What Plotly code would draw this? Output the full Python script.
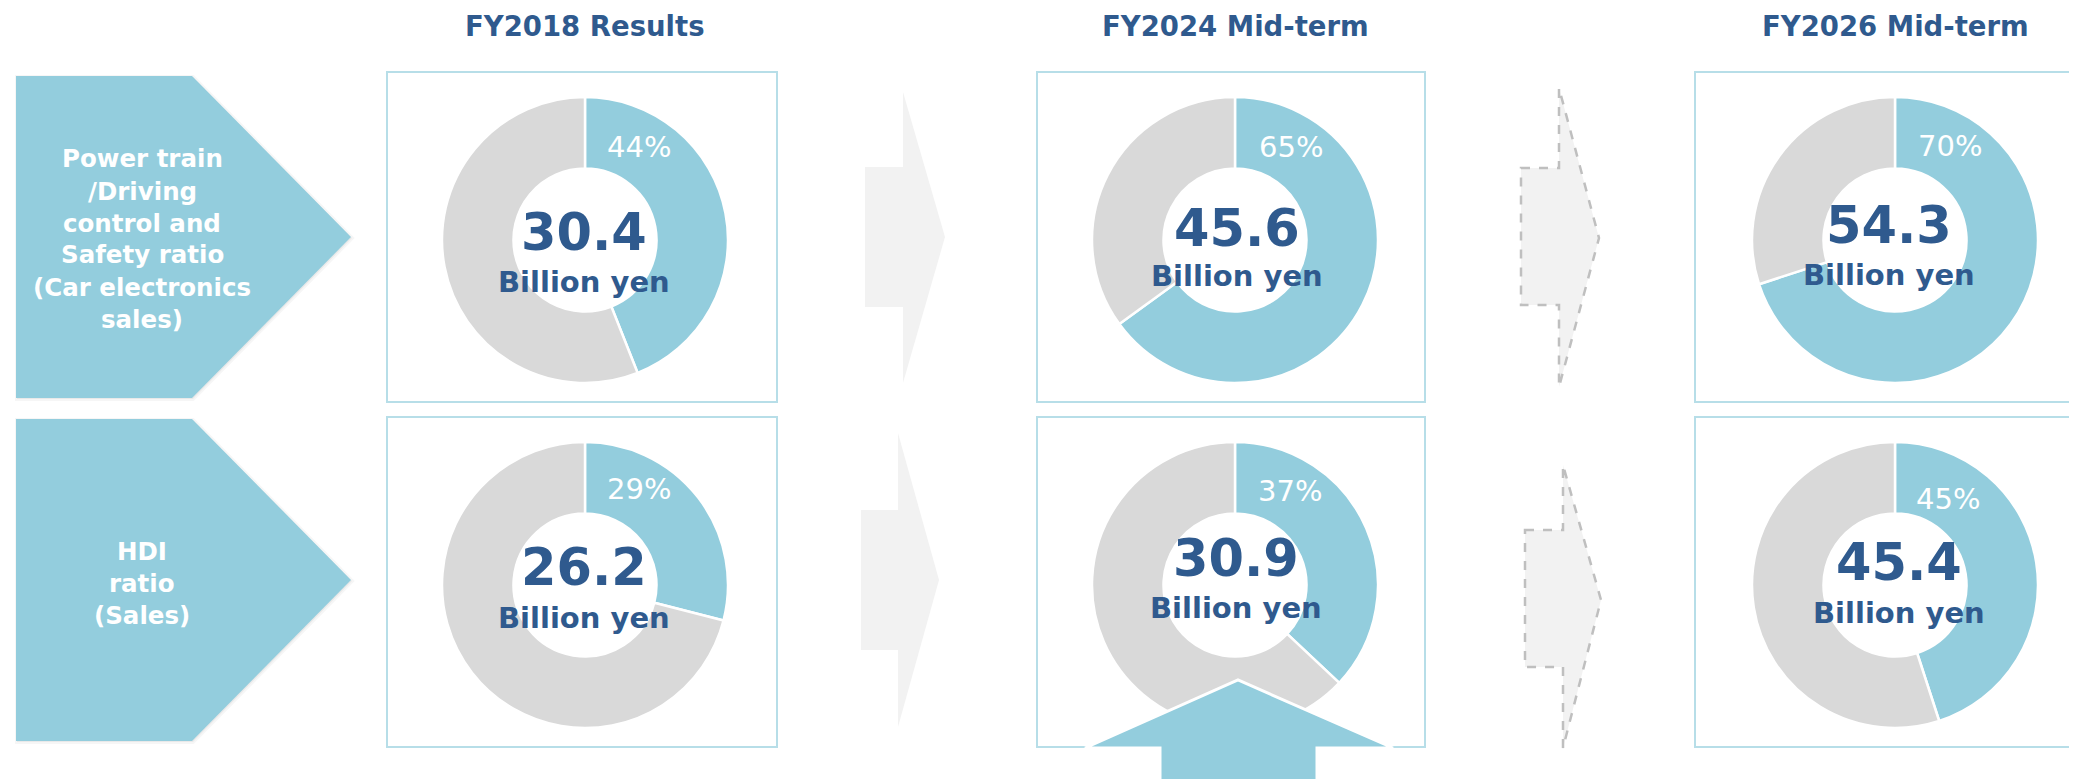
import plotly.graph_objects as go

# ---------------- data ----------------
periods = ["FY2018 Results", "FY2024 Mid-term", "FY2026 Mid-term"]
row_label_lines = [
    ["Power train", "/Driving", "control and", "Safety ratio", "(Car electronics", "sales)"],
    ["HDI", "ratio", "(Sales)"],
]
share_powertrain = [44, 65, 70]          # % of car electronics sales
share_hdi = [29, 37, 45]                 # % of sales
amount_powertrain = [30.4, 45.6, 54.3]   # billion yen
amount_hdi = [26.2, 30.9, 45.4]          # billion yen
unit_label = "Billion yen"

# ---------------- layout geometry (page pixels) ----------------
PAGE_W, PAGE_H = 2077, 779
OFF = 8                      # default page body margin
W, H = PAGE_W - OFF, PAGE_H - OFF
col_cx = [585, 1235, 1895]
row_cy = [240, 585]
R = 143
# centre-text positions (x, value_y, unit_y) per row/col
center_text_pos = [
    [(584, 232, 282), (1237, 228, 276), (1889, 225, 275)],
    [(584, 567, 618), (1236, 558, 608), (1899, 562, 613)],
]
pct_pos = [
    [(639, 147), (1291, 147), (1950, 146)],
    [(639, 489), (1290, 491), (1948, 499)],
]

BLUE = "#93CDDD"
GREY = "#D9D9D9"
DARK = "#2F5A8E"
BOX = "#B7DEE8"
FONT = "DejaVu Sans"


def px(x):
    return (x - OFF) / W


def py(y):
    return 1 - (y - OFF) / H


def path(points):
    return "M " + " L ".join(f"{px(x):.6f},{py(y):.6f}" for x, y in points) + " Z"


fig = go.Figure()

shares = [share_powertrain, share_hdi]
amounts = [amount_powertrain, amount_hdi]

for r in range(2):
    for c in range(3):
        cx, cy = col_cx[c], row_cy[r]
        p = shares[r][c]
        fig.add_trace(go.Pie(
            values=[p, 100 - p],
            labels=["share", "other"],
            sort=False,
            direction="clockwise",
            rotation=0,
            hole=0.5,
            marker=dict(colors=[BLUE, GREY], line=dict(color="white", width=2.5)),
            textinfo="none",
            hoverinfo="skip",
            showlegend=False,
            domain=dict(x=[px(cx - R), px(cx + R)], y=[py(cy + R), py(cy - R)]),
        ))

shapes = []
annotations = []

# boxes around donuts
box_x = [(387, 777), (1037, 1425), (1695, 2095)]
box_y = [(72, 402), (417, 747)]
for (y0, y1) in box_y:
    for (x0, x1) in box_x:
        shapes.append(dict(type="rect", xref="paper", yref="paper",
                           x0=px(x0), x1=px(x1), y0=py(y1), y1=py(y0),
                           line=dict(color=BOX, width=2), fillcolor="rgba(0,0,0,0)",
                           layer="below"))

# row pentagons (with soft shadow)
pent = [
    [(16, 76), (192, 76), (351, 237), (192, 398), (16, 398)],
    [(16, 419), (192, 419), (351, 580), (192, 741), (16, 741)],
]
for pts in pent:
    sh = [(x + 1, y + 1) for x, y in pts]
    shapes.append(dict(type="path", xref="paper", yref="paper", path=path(sh),
                       fillcolor="rgba(0,0,0,0.05)", line=dict(width=4, color="rgba(0,0,0,0.035)"),
                       layer="below"))
    shapes.append(dict(type="path", xref="paper", yref="paper", path=path(pts),
                       fillcolor=BLUE, line=dict(width=0), layer="below"))

# grey solid arrows (FY2018 -> FY2024)
grey_arrows = [
    [(865, 167), (903, 167), (903, 92), (945, 237), (903, 383), (903, 307), (865, 307)],
    [(861, 510), (898, 510), (898, 433), (939, 580), (898, 727), (898, 650), (861, 650)],
]
for pts in grey_arrows:
    shapes.append(dict(type="path", xref="paper", yref="paper", path=path(pts),
                       fillcolor="#F2F2F2", line=dict(width=0), layer="below"))

# dashed arrows (FY2024 -> FY2026)
dashed_arrows = [
    [(1521, 168), (1559, 168), (1559, 88), (1599, 238), (1559, 387), (1559, 305), (1521, 305)],
    [(1525, 530), (1563, 530), (1563, 465), (1601, 600), (1563, 748), (1563, 667), (1525, 667)],
]
for pts in dashed_arrows:
    shapes.append(dict(type="path", xref="paper", yref="paper", path=path(pts),
                       fillcolor="#F2F2F2", line=dict(width=2.5, color="#BFBFBF", dash="dash"),
                       layer="below"))

# blue up arrow over FY2024 HDI donut
up = [(1160, 800), (1160, 748), (1085, 748), (1238, 680), (1393, 748), (1317, 748), (1317, 800)]
shapes.append(dict(type="path", xref="paper", yref="paper", path=path(up),
                   fillcolor=BLUE, line=dict(width=3, color="white"), layer="above"))

# titles (anchored at top edge so the text box stays inside the page)
for c, t in enumerate(periods):
    annotations.append(dict(x=px(col_cx[c]), y=1, xref="paper", yref="paper",
                            text=f"<b>{t}</b>", showarrow=False, xanchor="center", yanchor="top",
                            font=dict(family=FONT, size=27.5, color=DARK)))

# row label text
row_text_cy = [239, 583]
line_gap = 32
for r, lines in enumerate(row_label_lines):
    n = len(lines)
    for i, ln in enumerate(lines):
        yy = row_text_cy[r] + (i - (n - 1) / 2) * line_gap
        annotations.append(dict(x=px(142), y=py(yy), xref="paper", yref="paper",
                                text=f"<b>{ln}</b>", showarrow=False, xanchor="center",
                                yanchor="middle",
                                font=dict(family=FONT, size=24.5, color="white")))

# donut texts
for r in range(2):
    for c in range(3):
        x, vy, uy = center_text_pos[r][c]
        annotations.append(dict(x=px(x), y=py(vy), xref="paper", yref="paper",
                                text=f"<b>{amounts[r][c]:.1f}</b>", showarrow=False,
                                xanchor="center", yanchor="middle",
                                font=dict(family=FONT, size=51, color=DARK)))
        annotations.append(dict(x=px(x), y=py(uy), xref="paper", yref="paper",
                                text=f"<b>{unit_label}</b>", showarrow=False,
                                xanchor="center", yanchor="middle",
                                font=dict(family=FONT, size=29, color=DARK)))
        qx, qy = pct_pos[r][c]
        annotations.append(dict(x=px(qx), y=py(qy), xref="paper", yref="paper",
                                text=f"{shares[r][c]}%", showarrow=False,
                                xanchor="center", yanchor="middle",
                                font=dict(family=FONT, size=29, color="white")))

fig.update_layout(
    width=W, height=H,
    margin=dict(l=0, r=0, t=0, b=0),
    paper_bgcolor="white", plot_bgcolor="white",
    shapes=shapes, annotations=annotations,
    showlegend=False,
)

fig.write_html("out.html")
